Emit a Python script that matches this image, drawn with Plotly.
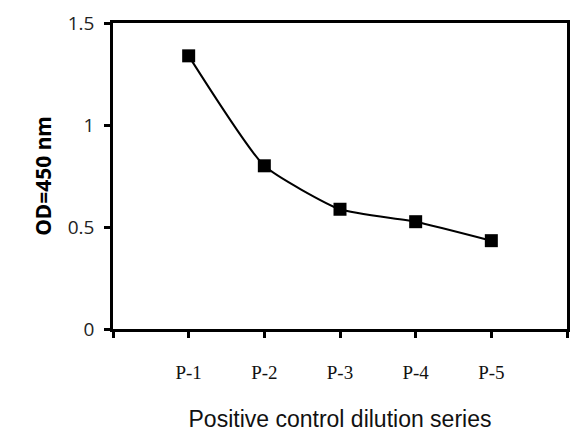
import plotly.graph_objects as go

# dilution series, OD readings
categories = ["P-1", "P-2", "P-3", "P-4", "P-5"]
od_values = [1.339, 0.800, 0.587, 0.526, 0.433]
y_ticks = [0, 0.5, 1, 1.5]
y_tick_text = ["0", "0.5", "1", "1.5"]

x_pos = list(range(len(categories)))

fig = go.Figure()
fig.add_trace(
    go.Scatter(
        x=x_pos,
        y=od_values,
        mode="lines+markers",
        line=dict(color="black", width=2, shape="spline", smoothing=0.5),
        marker=dict(symbol="square", size=13, color="black"),
        showlegend=False,
    )
)

# the page body adds an 8px offset, so margins are shifted to compensate
fig.update_layout(
    width=586,
    height=441,
    margin=dict(l=105, r=27, t=15, b=120),
    paper_bgcolor="white",
    plot_bgcolor="white",
    xaxis=dict(
        range=[-1, 5],
        tickvals=[-1] + x_pos + [5],
        ticktext=[""] + categories + [""],
        ticks="outside",
        ticklen=6,
        tickwidth=2.5,
        tickcolor="black",
        showline=True,
        linecolor="black",
        linewidth=2.5,
        mirror=True,
        showgrid=False,
        zeroline=False,
        ticklabelstandoff=18,
        tickfont=dict(family="Liberation Serif", size=19, color="#111"),
        title=dict(
            text="Positive control dilution series",
            font=dict(family="Liberation Sans", size=23, color="#111"),
            standoff=30,
        ),
        automargin=False,
    ),
    yaxis=dict(
        range=[0, 1.5],
        tickvals=y_ticks,
        ticktext=y_tick_text,
        ticks="outside",
        ticklen=6,
        tickwidth=2.5,
        tickcolor="black",
        showline=True,
        linecolor="black",
        linewidth=2.5,
        mirror=True,
        showgrid=False,
        zeroline=False,
        ticklabelstandoff=6,
        tickfont=dict(family="Open Sans", size=19, color="#222"),
        title=dict(
            text="<b>OD=450 nm</b>",
            font=dict(family="Noto Sans", size=21, color="black"),
            standoff=11,
        ),
        automargin=False,
    ),
)

fig.write_html("out.html")
